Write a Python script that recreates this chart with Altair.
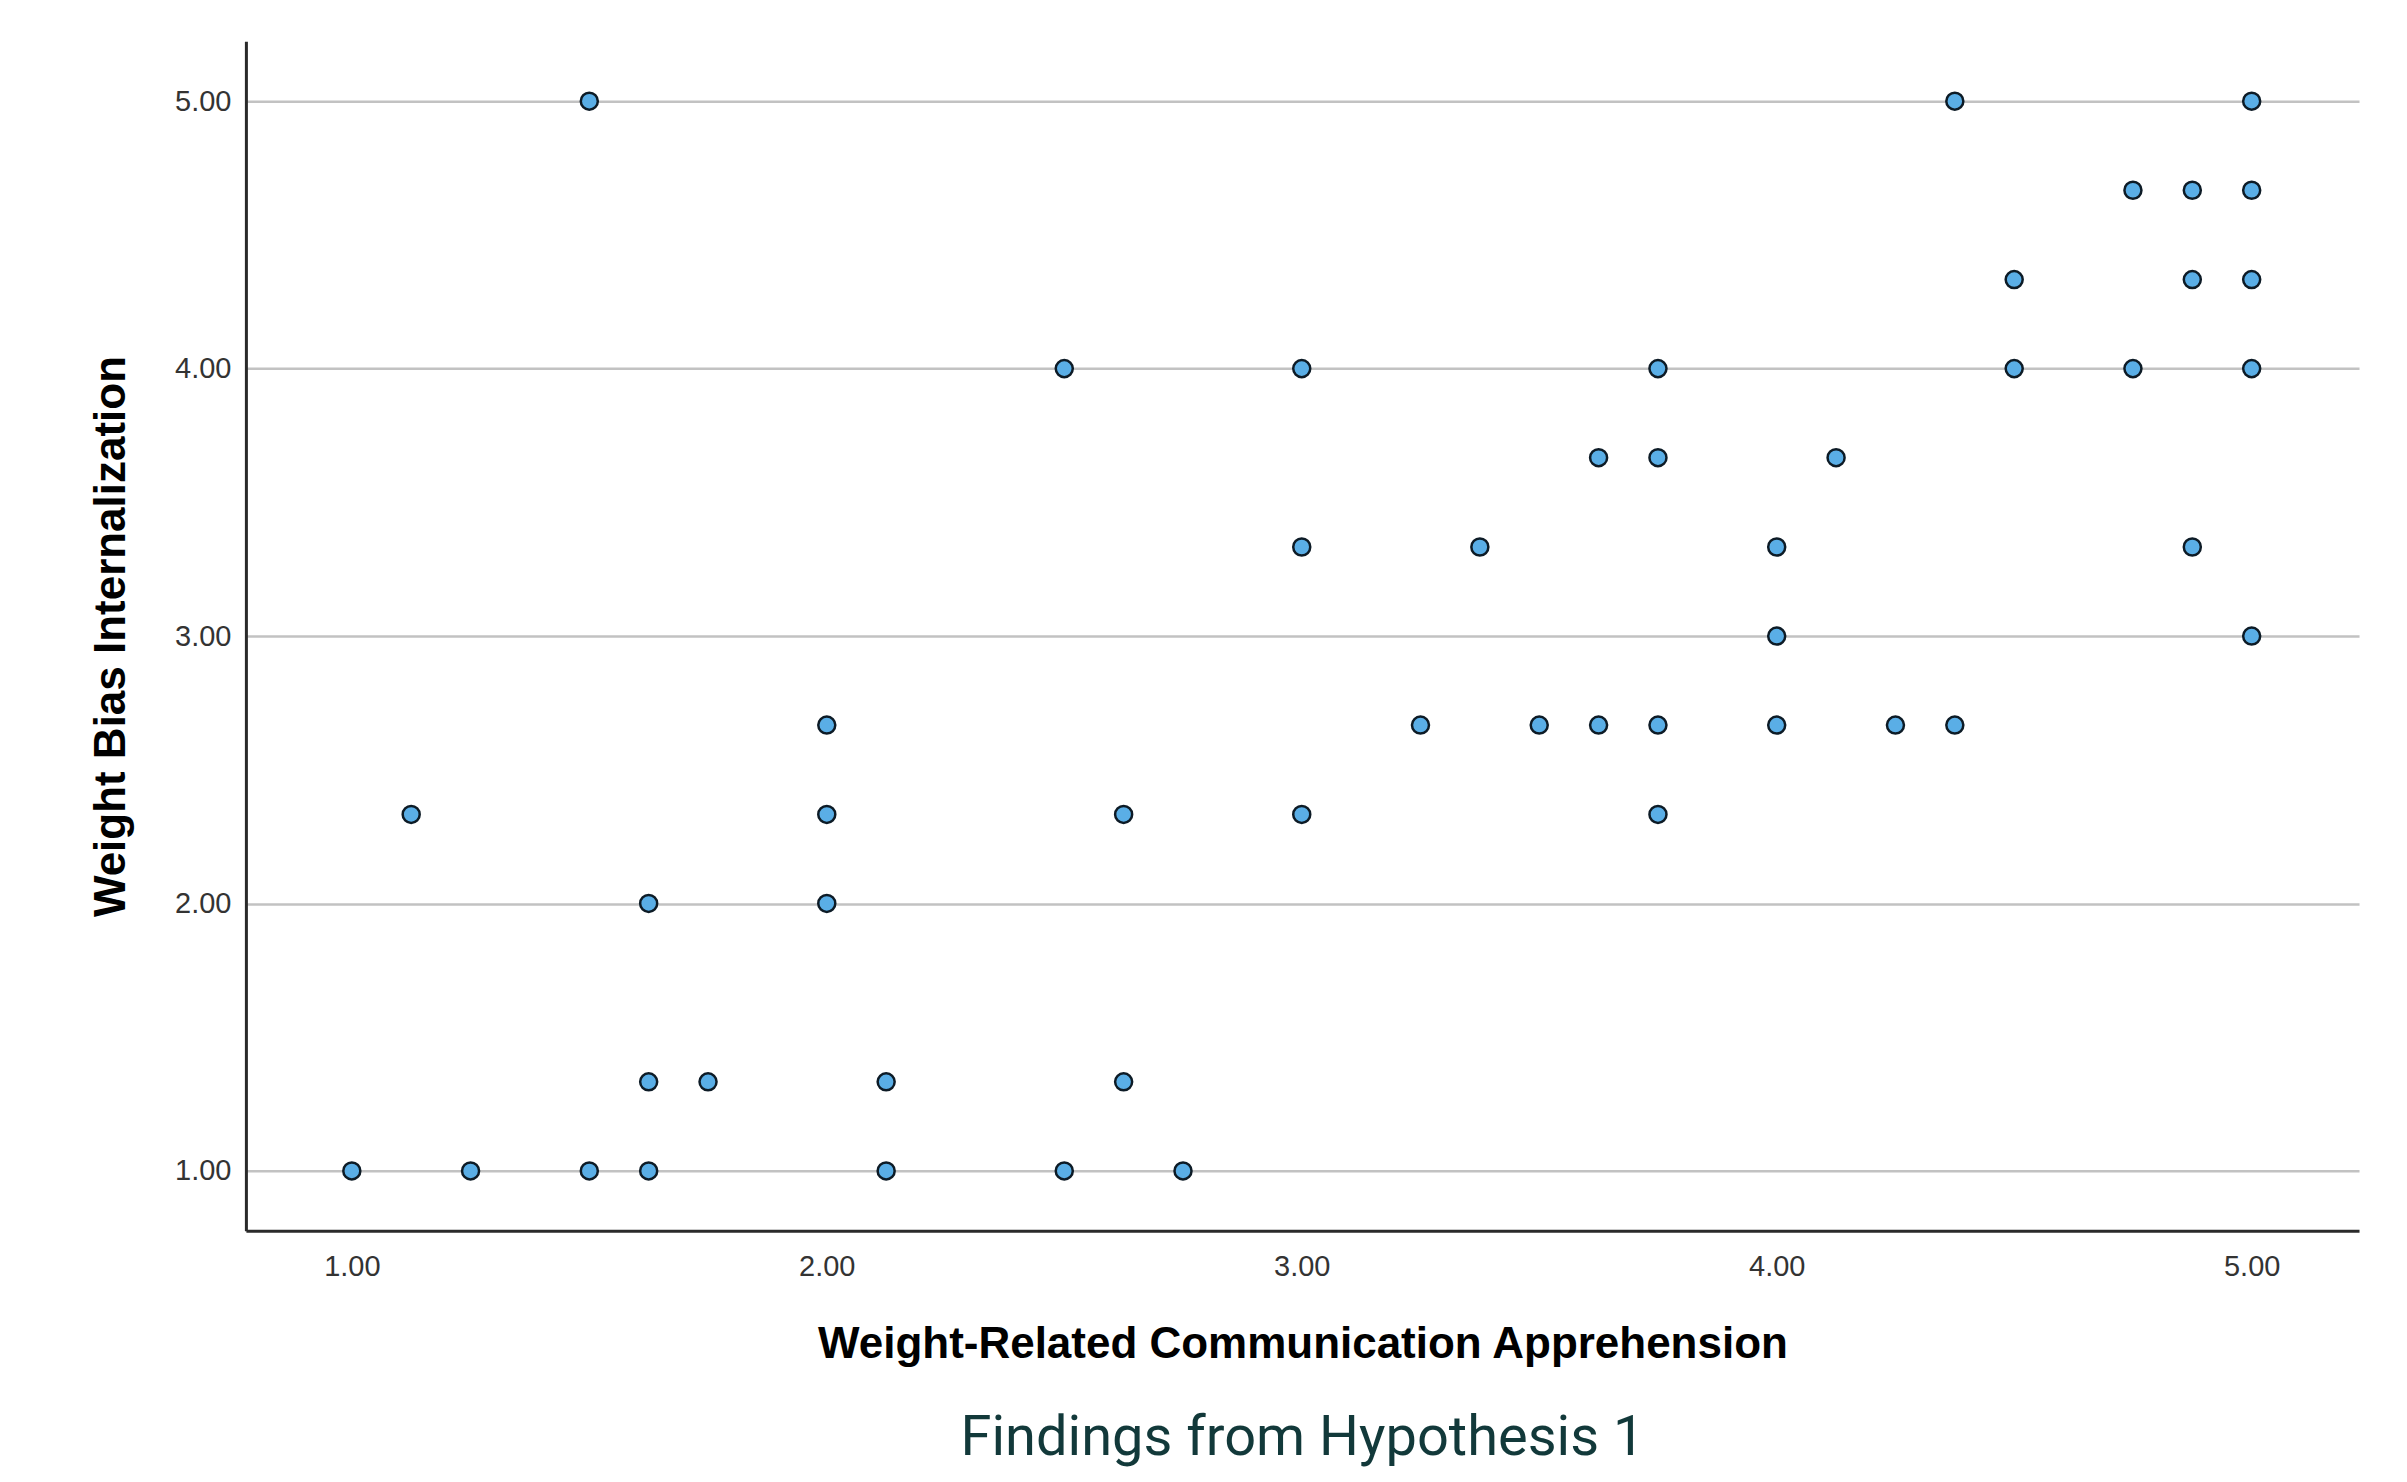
import altair as alt
import pandas as pd

# Weight-Related Communication Apprehension (x) and Weight Bias Internalization (y)
x_vals = [
    1.5, 4.375, 5.0,
    4.75, 4.875, 5.0,
    4.5, 4.875, 5.0,
    2.5, 3.0, 3.75, 4.5, 4.75, 5.0,
    3.625, 3.75, 4.125,
    3.0, 3.375, 4.0, 4.875,
    4.0, 5.0,
    2.0, 3.25, 3.5, 3.625, 3.75, 4.0, 4.25, 4.375,
    1.125, 2.0, 2.625, 3.0, 3.75,
    1.625, 2.0,
    1.625, 1.75, 2.125, 2.625,
    1.0, 1.25, 1.5, 1.625, 2.125, 2.5, 2.75,
]
y_vals = (
    [5.0] * 3
    + [4.667] * 3
    + [4.333] * 3
    + [4.0] * 6
    + [3.667] * 3
    + [3.333] * 4
    + [3.0] * 2
    + [2.667] * 8
    + [2.333] * 5
    + [2.0] * 2
    + [1.333] * 4
    + [1.0] * 7
)
tick_values = [1.0, 2.0, 3.0, 4.0, 5.0]

x_title = "Weight-Related Communication Apprehension"
y_title = "Weight Bias Internalization"
caption = "Findings from Hypothesis 1"

df = pd.DataFrame({"x": x_vals, "y": y_vals})

chart = (
    alt.Chart(df)
    .mark_point(filled=True, shape="circle", size=290, fill="#5aaee6",
                stroke="#0d1b26", strokeWidth=2.5, opacity=1)
    .encode(
        x=alt.X(
            "x:Q",
            scale=alt.Scale(domain=[0.777, 5.226], nice=False, zero=False),
            axis=alt.Axis(
                values=tick_values, format=".2f", title=x_title, grid=False,
                ticks=False, labelPadding=22, labelFontSize=29,
                labelFont="Liberation Sans", labelColor="#333333",
                titleFont="Liberation Sans", titleFontWeight="bold",
                titleFontSize=44, titleColor="#000000",
                titleBaseline="middle", titleY=114,
                domainColor="#2a2a2a", domainWidth=3,
            ),
        ),
        y=alt.Y(
            "y:Q",
            scale=alt.Scale(domain=[0.776, 5.224], nice=False, zero=False),
            axis=alt.Axis(
                values=tick_values, format=".2f", title=y_title, grid=True,
                gridColor="#c2c2c2", gridWidth=2.5, ticks=False,
                labelPadding=15, labelFontSize=29,
                labelFont="Liberation Sans", labelColor="#333333",
                titleFont="Liberation Sans", titleFontWeight="bold",
                titleFontSize=44, titleColor="#000000",
                titleAngle=270, titleBaseline="middle", titleAlign="center",
                titleX=-134, titleY=595,
                domainColor="#2a2a2a", domainWidth=3,
            ),
        ),
    )
    .properties(
        width=2114,
        height=1190,
        autosize=alt.AutoSizeParams(type="none"),
        padding={"left": 238, "top": 33, "right": 40, "bottom": 242},
        background="white",
        title=alt.TitleParams(
            caption, orient="bottom", anchor="middle", font="Roboto",
            fontSize=56, fontWeight="normal", color="#12393a", offset=44,
        ),
    )
    .configure_view(stroke="transparent", strokeWidth=0)
)

chart.save("out.html", embed_options={"renderer": "svg", "actions": False})
